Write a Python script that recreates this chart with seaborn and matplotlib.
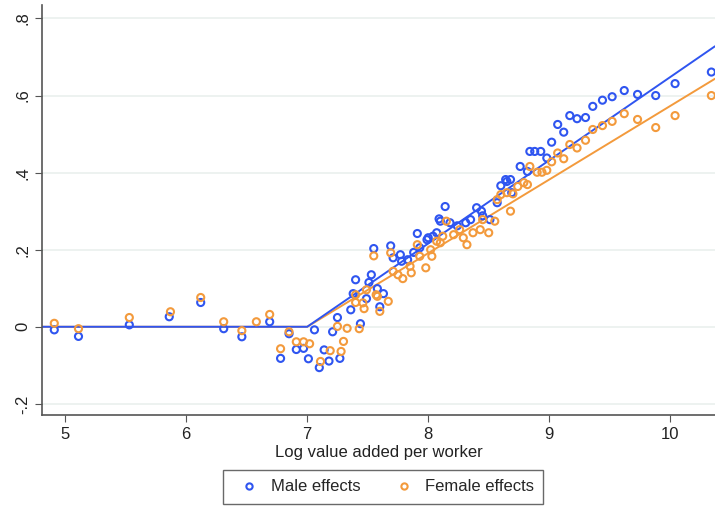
import numpy as np
import pandas as pd
import matplotlib
matplotlib.use('Agg')
import matplotlib.pyplot as plt
import seaborn as sns

# ------------------------------------------
# DATA
# ------------------------------------------
male_x = [4.91, 5.11, 5.53, 5.86, 6.12, 6.31, 6.46, 6.69, 6.85, 6.78, 6.91, 6.97, 7.01,
          7.06, 7.10, 7.14, 7.18, 7.21, 7.25, 7.27, 7.36, 7.44, 7.40, 7.38, 7.49, 7.53,
          7.51, 7.58, 7.55, 7.69, 7.63, 7.60, 7.71, 7.77, 7.78, 7.83, 7.91, 7.88, 7.93,
          8.00, 8.07, 8.10, 7.99, 8.04, 8.09, 8.14, 8.18, 8.24, 8.31, 8.35, 8.40, 8.44,
          8.45, 8.51, 8.57, 8.60, 8.65, 8.64, 8.68, 8.69, 8.76, 8.82, 8.84, 8.88, 8.93,
          8.98, 9.02, 9.07, 9.12, 9.17, 9.23, 9.30, 9.36, 9.44, 9.52, 9.62, 9.73, 9.88,
          10.04, 10.34]
male_y = [-0.008, -0.025, 0.005, 0.026, 0.063, -0.005, -0.026, 0.013, -0.018, -0.082,
          -0.059, -0.056, -0.083, -0.008, -0.106, -0.060, -0.089, -0.013, 0.024, -0.082,
          0.044, 0.008, 0.122, 0.086, 0.073, 0.135, 0.115, 0.099, 0.203, 0.210, 0.086,
          0.052, 0.179, 0.187, 0.170, 0.174, 0.242, 0.193, 0.205, 0.231, 0.244, 0.274,
          0.226, 0.235, 0.280, 0.312, 0.270, 0.262, 0.270, 0.278, 0.309, 0.300, 0.288,
          0.278, 0.322, 0.366, 0.377, 0.382, 0.382, 0.348, 0.416, 0.403, 0.455, 0.455,
          0.455, 0.438, 0.479, 0.525, 0.505, 0.548, 0.540, 0.543, 0.572, 0.588, 0.597,
          0.613, 0.603, 0.600, 0.631, 0.661]

female_x = [4.91, 5.11, 5.53, 5.87, 6.12, 6.31, 6.46, 6.58, 6.69, 6.85, 6.78, 6.91, 6.97,
            7.02, 7.11, 7.19, 7.25, 7.28, 7.30, 7.33, 7.43, 7.40, 7.46, 7.40, 7.49, 7.57,
            7.55, 7.69, 7.47, 7.58, 7.67, 7.60, 7.71, 7.75, 7.79, 7.86, 7.91, 7.85, 7.93,
            7.98, 8.02, 8.07, 8.12, 8.03, 8.10, 8.15, 8.21, 8.26, 8.32, 8.29, 8.37, 8.43,
            8.45, 8.50, 8.55, 8.57, 8.60, 8.65, 8.68, 8.70, 8.74, 8.79, 8.82, 8.84, 8.90,
            8.94, 8.98, 9.02, 9.07, 9.12, 9.17, 9.23, 9.30, 9.36, 9.44, 9.52, 9.62, 9.73,
            9.88, 10.04, 10.34]
female_y = [0.009, -0.005, 0.024, 0.039, 0.076, 0.013, -0.010, 0.013, 0.032, -0.013,
            -0.057, -0.039, -0.039, -0.044, -0.090, -0.062, 0.001, -0.064, -0.038, -0.004,
            -0.005, 0.063, 0.062, 0.083, 0.096, 0.083, 0.184, 0.192, 0.047, 0.079, 0.066,
            0.040, 0.144, 0.135, 0.125, 0.140, 0.213, 0.157, 0.183, 0.153, 0.200, 0.222,
            0.235, 0.183, 0.218, 0.274, 0.239, 0.252, 0.213, 0.231, 0.244, 0.252, 0.278,
            0.244, 0.274, 0.330, 0.343, 0.348, 0.300, 0.345, 0.364, 0.374, 0.369, 0.416,
            0.401, 0.401, 0.406, 0.428, 0.451, 0.436, 0.473, 0.464, 0.484, 0.512, 0.522,
            0.533, 0.553, 0.538, 0.517, 0.548, 0.600]

# piecewise-linear fit: flat at zero, kink at 7
kink = 7.0
slopes = {'Male effects': 0.216, 'Female effects': 0.191}
x_min, x_max = 4.81, 10.37
y_ticks = [-0.2, 0, 0.2, 0.4, 0.6, 0.8]
y_tick_labels = ['-.2', '0', '.2', '.4', '.6', '.8']
x_ticks = [5, 6, 7, 8, 9, 10]

colors = {'Male effects': '#2f55f0', 'Female effects': '#f39a3c'}
order = ['Male effects', 'Female effects']

pts = pd.concat([
    pd.DataFrame({'x': male_x, 'y': male_y, 'group': 'Male effects'}),
    pd.DataFrame({'x': female_x, 'y': female_y, 'group': 'Female effects'}),
])

grid_x = [x_min, kink, x_max]
fit = pd.concat([
    pd.DataFrame({'x': grid_x,
                  'y': [max(0.0, s * (v - kink)) for v in grid_x],
                  'group': g})
    for g, s in slopes.items()
])

# ------------------------------------------
# PLOT
# ------------------------------------------
sns.set_style('white')
plt.rcParams['font.family'] = ['Liberation Sans', 'DejaVu Sans']

fig = plt.figure(figsize=(7.15, 5.13), dpi=100)
ax = fig.add_axes([0.059, 0.191, 0.941, 0.80])

for yt in y_ticks:
    ax.axhline(yt, color='#eaf0ee', lw=1.2, zorder=0)

# female first so the blue line sits on top
for g in ['Female effects', 'Male effects']:
    d = fit[fit['group'] == g]
    sns.lineplot(data=d, x='x', y='y', color=colors[g], lw=1.4, ax=ax,
                 legend=False, zorder=2)

for g in order:
    d = pts[pts['group'] == g]
    sns.scatterplot(data=d, x='x', y='y', marker='o', s=26,
                    facecolors='none', edgecolor=colors[g], linewidth=1.5,
                    ax=ax, legend=False, zorder=3)

ax.set_xlim(x_min, x_max)
ax.set_ylim(-0.229, 0.836)
ax.set_xticks(x_ticks)
ax.set_yticks(y_ticks)
ax.set_yticklabels(y_tick_labels, rotation=90, va='center')
ax.tick_params(axis='both', length=5, color='#555555', labelsize=12,
               labelcolor='#222222', direction='out', bottom=True, left=True)
ax.set_xlabel('Log value added per worker', fontsize=12, color='#222222', labelpad=2)
ax.set_ylabel('')

sns.despine(ax=ax, top=True, right=True)
for sp in ['left', 'bottom']:
    ax.spines[sp].set_color('#555555')
    ax.spines[sp].set_linewidth(1.2)

handles = [plt.Line2D([], [], ls='none', marker='o', markersize=4.5,
                      markerfacecolor='none', markeredgecolor=colors[g],
                      markeredgewidth=1.5, label=g)
           for g in order]
leg = fig.legend(handles=handles, loc='lower center', bbox_to_anchor=(0.536, 0.002),
                 ncol=2, fontsize=12, frameon=True, fancybox=False,
                 handletextpad=0.3, columnspacing=1.6, borderpad=0.55)
leg.get_frame().set_edgecolor('#444444')
leg.get_frame().set_linewidth(1.0)

fig.savefig('out.png', dpi=100)
